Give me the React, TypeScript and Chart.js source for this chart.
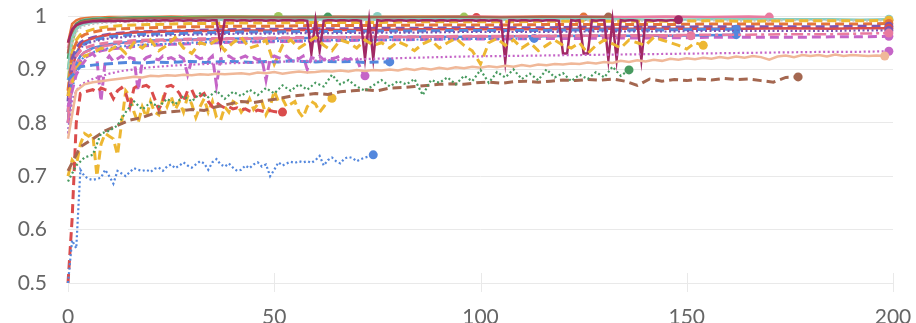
import React, { useEffect, useRef } from "react";
import { Chart, registerables } from "chart.js";

Chart.register(...registerables);

// ---------- axes ----------
const X_MIN = 0;
const X_MAX = 200;
const X_STEP = 50;
const Y_MIN = 0.5;
const Y_MAX = 1;
const Y_STEP = 0.1;

// shared epoch grid for the smooth, near-flat runs
const EPOCH_GRID = [0, 1, 2, 3, 4, 6, 8, 10, 13, 16, 20, 25, 30, 36, 42, 50, 58, 66, 75, 85, 95, 105, 115, 125, 135, 145, 155, 165, 175, 185, 192, 199];

// ---------- noisy runs (one value per `step` epochs) ----------
const blueLowDotted = [
  0.5, 0.58, 0.565, 0.712, 0.7, 0.695, 0.693, 0.695, 0.697, 0.712,
  0.7, 0.686, 0.71, 0.705, 0.7, 0.708, 0.715, 0.712, 0.71, 0.712,
  0.708, 0.714, 0.716, 0.71, 0.718, 0.722, 0.715, 0.72, 0.726, 0.72,
  0.716, 0.722, 0.728, 0.724, 0.712, 0.726, 0.732, 0.722, 0.718, 0.724,
  0.716, 0.71, 0.712, 0.72, 0.715, 0.722, 0.726, 0.718, 0.722, 0.7,
  0.712, 0.726, 0.72, 0.724, 0.727, 0.725, 0.728, 0.726, 0.728, 0.725,
  0.73, 0.738, 0.72, 0.73, 0.735, 0.728, 0.724, 0.733, 0.736, 0.734,
  0.728, 0.732, 0.735, 0.737, 0.74,
];

const greenDotted = [
  0.69, 0.72, 0.735, 0.74, 0.78, 0.785, 0.795, 0.82, 0.84, 0.825,
  0.838, 0.83, 0.845, 0.835, 0.85, 0.84, 0.855, 0.848, 0.86, 0.845,
  0.858, 0.85, 0.862, 0.852, 0.865, 0.855, 0.87, 0.86, 0.872, 0.862,
  0.875, 0.868, 0.89, 0.872, 0.88, 0.868, 0.86, 0.87, 0.88, 0.868,
  0.878, 0.872, 0.882, 0.852, 0.88, 0.875, 0.885, 0.872, 0.888, 0.878,
  0.899, 0.875, 0.895, 0.885, 0.9, 0.882, 0.892, 0.88, 0.9, 0.885,
  0.893, 0.878, 0.89, 0.882, 0.895, 0.885, 0.905, 0.888, 0.899,
];

const brownDashed = [
  0.71, 0.755, 0.77, 0.785, 0.795, 0.805, 0.81, 0.818, 0.82, 0.822,
  0.825, 0.823, 0.83, 0.835, 0.84, 0.838, 0.842, 0.845, 0.85, 0.852,
  0.855, 0.853, 0.858, 0.86, 0.862, 0.86, 0.865, 0.866, 0.868, 0.87,
  0.872, 0.873, 0.872, 0.875, 0.876, 0.874, 0.877, 0.878, 0.876, 0.878,
  0.88, 0.879, 0.881, 0.88, 0.882, 0.878, 0.87, 0.882, 0.878, 0.881,
  0.879, 0.882, 0.88, 0.883, 0.881, 0.882, 0.879, 0.876, 0.885, 0.886,
];

const redDashed = [
  0.5, 0.62, 0.8, 0.855, 0.858, 0.86, 0.862, 0.858, 0.865, 0.862,
  0.86, 0.845, 0.86, 0.866, 0.855, 0.83, 0.865, 0.87, 0.868, 0.87,
  0.865, 0.845, 0.825, 0.84, 0.868, 0.87, 0.865, 0.855, 0.84, 0.86,
  0.862, 0.845, 0.85, 0.855, 0.84, 0.83, 0.838, 0.832, 0.828, 0.83,
  0.826, 0.828, 0.824, 0.826, 0.822, 0.82, 0.824, 0.822, 0.82, 0.823,
  0.821, 0.82, 0.82,
];

const yellowLowDashed = [
  0.7, 0.73, 0.72, 0.76, 0.78, 0.775, 0.78, 0.7, 0.76, 0.78,
  0.775, 0.77, 0.74, 0.8, 0.86, 0.85, 0.82, 0.8, 0.83, 0.81,
  0.84, 0.82, 0.815, 0.845, 0.83, 0.85, 0.825, 0.84, 0.82, 0.85,
  0.835, 0.81, 0.83, 0.845, 0.82, 0.84, 0.81, 0.805, 0.83, 0.82,
  0.84, 0.835, 0.82, 0.83, 0.845, 0.825, 0.835, 0.84, 0.815, 0.83,
  0.86, 0.84, 0.845, 0.83, 0.835, 0.84, 0.82, 0.81, 0.83, 0.84,
  0.835, 0.82, 0.83, 0.84, 0.846,
];

const yellowHighDashed = [
  0.85, 0.9, 0.925, 0.93, 0.94, 0.935, 0.945, 0.93, 0.95, 0.94,
  0.955, 0.935, 0.945, 0.96, 0.94, 0.93, 0.95, 0.945, 0.955, 0.935,
  0.95, 0.96, 0.94, 0.945, 0.955, 0.91, 0.945, 0.955, 0.94, 0.95,
  0.96, 0.945, 0.935, 0.955, 0.95, 0.94, 0.955, 0.945, 0.95, 0.94,
  0.952, 0.945, 0.935, 0.948, 0.955, 0.94, 0.95, 0.958, 0.945, 0.935,
  0.91, 0.95, 0.958, 0.945, 0.955, 0.94, 0.95, 0.935, 0.945, 0.955,
  0.945, 0.94, 0.95, 0.93, 0.945, 0.955, 0.948, 0.94, 0.955, 0.95,
  0.945, 0.96, 0.955, 0.95, 0.945, 0.938, 0.95, 0.945,
];

const magentaDashed = [
  0.83, 0.86, 0.89, 0.905, 0.915, 0.925, 0.93, 0.92, 0.84, 0.915,
  0.925, 0.915, 0.92, 0.925, 0.918, 0.922, 0.92, 0.86, 0.915, 0.922,
  0.925, 0.92, 0.918, 0.925, 0.92, 0.922, 0.918, 0.925, 0.92, 0.89,
  0.918, 0.925, 0.92, 0.922, 0.918, 0.925, 0.87, 0.92, 0.922, 0.925,
  0.92, 0.918, 0.922, 0.925, 0.92, 0.922, 0.918, 0.92, 0.88, 0.92,
  0.925, 0.922, 0.92, 0.925, 0.918, 0.922, 0.92, 0.925, 0.9, 0.922,
  0.92, 0.925, 0.918, 0.922, 0.92, 0.922, 0.925, 0.92, 0.918, 0.922,
  0.92, 0.9, 0.888,
];

const blueMidDashed = [
  0.88, 0.905, 0.908, 0.91, 0.912, 0.913, 0.912, 0.914, 0.913, 0.914,
  0.915, 0.913, 0.914, 0.915, 0.914, 0.913, 0.915, 0.914, 0.916, 0.915,
  0.914, 0.915, 0.914, 0.915, 0.913, 0.914, 0.914,
];

const peachSolid = [
  0.77, 0.86, 0.872, 0.876, 0.878, 0.88, 0.882, 0.884, 0.886, 0.885,
  0.888, 0.887, 0.889, 0.888, 0.89, 0.889, 0.891, 0.89, 0.892, 0.891,
  0.892, 0.893, 0.891, 0.894, 0.893, 0.895, 0.892, 0.894, 0.896, 0.894,
  0.895, 0.897, 0.896, 0.898, 0.896, 0.899, 0.897, 0.899, 0.898, 0.9,
  0.898, 0.901, 0.899, 0.902, 0.9, 0.903, 0.901, 0.904, 0.902, 0.905,
  0.903, 0.906, 0.904, 0.907, 0.905, 0.908, 0.906, 0.909, 0.908, 0.91,
  0.909, 0.911, 0.91, 0.913, 0.911, 0.914, 0.912, 0.916, 0.914, 0.917,
  0.915, 0.918, 0.916, 0.92, 0.918, 0.921, 0.919, 0.922, 0.92, 0.923,
  0.921, 0.924, 0.922, 0.925, 0.923, 0.918, 0.924, 0.926, 0.923, 0.927,
  0.925, 0.927, 0.924, 0.928, 0.925, 0.927, 0.926, 0.925, 0.926, 0.925,
];

const darkMagentaSolid = [
  0.95, 0.975, 0.983, 0.986, 0.988, 0.989, 0.99, 0.99, 0.991, 0.99,
  0.991, 0.99, 0.991, 0.991, 0.99, 0.991, 0.992, 0.991, 0.991, 0.992,
  0.991, 0.992, 0.991, 0.992, 0.992, 0.991, 0.992, 0.992, 0.991, 0.992,
  0.992, 0.991, 0.992, 0.992, 0.991, 0.992, 0.992, 0.945, 0.992, 0.992,
  0.992, 0.991, 0.992, 0.992, 0.991, 0.992, 0.992, 0.992, 0.991, 0.992,
  0.992, 0.991, 0.992, 0.992, 0.992, 0.991, 0.992, 0.992, 0.991, 0.93,
  0.992, 0.935, 0.991, 0.992, 0.992, 0.991, 0.992, 0.992, 0.991, 0.992,
  0.992, 0.991, 0.92, 0.992, 0.92, 0.992, 0.991, 0.992, 0.992, 0.991,
  0.992, 0.992, 0.991, 0.992, 0.992, 0.991, 0.992, 0.992, 0.992, 0.991,
  0.992, 0.992, 0.991, 0.992, 0.992, 0.991, 0.992, 0.992, 0.992, 0.991,
  0.992, 0.992, 0.991, 0.992, 0.992, 0.991, 0.915, 0.992, 0.992, 0.991,
  0.992, 0.992, 0.991, 0.992, 0.992, 0.991, 0.992, 0.992, 0.992, 0.991,
  0.93, 0.93, 0.992, 0.991, 0.992, 0.93, 0.93, 0.992, 0.991, 0.992,
  0.992, 0.918, 0.992, 0.918, 0.992, 0.991, 0.992, 0.992, 0.991, 0.918,
  0.992, 0.992, 0.991, 0.992, 0.992, 0.991, 0.992, 0.992, 0.993,
];

// ---------- smooth runs on EPOCH_GRID (last value sits at the run's final epoch) ----------
const orangeTopSolid = [0.95, 0.985, 0.992, 0.995, 0.996, 0.997, 0.997, 0.998, 0.998, 0.998, 0.998, 0.999, 0.998, 0.999, 0.999, 0.998, 0.999, 0.999, 0.998, 0.999, 0.999, 0.998, 0.999, 0.998];
const redTopSolid = [0.93, 0.975, 0.985, 0.99, 0.992, 0.994, 0.995, 0.995, 0.996, 0.996, 0.997, 0.997, 0.996, 0.997, 0.997, 0.997, 0.996, 0.997, 0.997, 0.996, 0.997, 0.997];
const pinkTopSolid = [0.94, 0.975, 0.985, 0.99, 0.992, 0.994, 0.995, 0.996, 0.996, 0.997, 0.997, 0.997, 0.998, 0.998, 0.997, 0.998, 0.998, 0.998, 0.998, 0.998, 0.999, 0.998, 0.998, 0.999, 0.998, 0.999, 0.998, 0.999, 0.998];
const tealLong = [0.9, 0.96, 0.975, 0.982, 0.985, 0.988, 0.989, 0.99, 0.991, 0.991, 0.992, 0.992, 0.992, 0.993, 0.993, 0.993, 0.993, 0.994, 0.993, 0.994, 0.994, 0.993, 0.994, 0.994, 0.994, 0.993, 0.994, 0.994, 0.994, 0.994, 0.993, 0.994];
const tealShort = [0.92, 0.97, 0.985, 0.99, 0.993, 0.995, 0.996, 0.996, 0.997, 0.997, 0.998, 0.997, 0.998, 0.998, 0.998, 0.998, 0.999, 0.998, 0.999];
const limeShort = [0.9, 0.96, 0.98, 0.988, 0.99, 0.993, 0.994, 0.995, 0.996, 0.996, 0.997, 0.997, 0.998, 0.998, 0.998, 0.998, 0.999];
const greenShort = [0.92, 0.97, 0.985, 0.99, 0.992, 0.994, 0.995, 0.996, 0.996, 0.997, 0.997, 0.997, 0.998, 0.998, 0.998, 0.998, 0.997, 0.998];
const limeMid = [0.88, 0.95, 0.975, 0.985, 0.988, 0.991, 0.993, 0.994, 0.995, 0.995, 0.996, 0.996, 0.997, 0.997, 0.997, 0.997, 0.998, 0.997, 0.998, 0.998, 0.998, 0.998];
const brownTop = [0.93, 0.97, 0.982, 0.988, 0.99, 0.992, 0.993, 0.994, 0.995, 0.995, 0.996, 0.996, 0.996, 0.997, 0.997, 0.997, 0.997, 0.997, 0.998, 0.997, 0.998, 0.997, 0.998, 0.998, 0.998];
const grayDotted = [0.88, 0.95, 0.97, 0.978, 0.982, 0.985, 0.987, 0.988, 0.989, 0.99, 0.99, 0.99, 0.991, 0.991, 0.99, 0.991, 0.991, 0.991, 0.992, 0.991, 0.991, 0.992, 0.991, 0.992, 0.991, 0.992, 0.992, 0.991, 0.992, 0.992, 0.991, 0.992];
const yellowTopDashed = [0.85, 0.93, 0.955, 0.965, 0.97, 0.975, 0.978, 0.98, 0.982, 0.983, 0.984, 0.985, 0.986, 0.986, 0.987, 0.987, 0.988, 0.988, 0.988, 0.989, 0.989, 0.989, 0.99, 0.99, 0.99, 0.99, 0.991, 0.99, 0.991, 0.991, 0.991, 0.992];
const orangeDashed = [0.86, 0.93, 0.95, 0.96, 0.965, 0.97, 0.973, 0.975, 0.976, 0.977, 0.978, 0.979, 0.98, 0.98, 0.981, 0.981, 0.982, 0.982, 0.982, 0.983, 0.983, 0.983, 0.984, 0.984, 0.984, 0.984, 0.985, 0.985, 0.985, 0.985, 0.985, 0.986];
const purpleDashed = [0.84, 0.92, 0.94, 0.95, 0.955, 0.96, 0.963, 0.966, 0.968, 0.97, 0.971, 0.972, 0.973, 0.974, 0.975, 0.975, 0.976, 0.976, 0.977, 0.977, 0.978, 0.978, 0.978, 0.979, 0.979, 0.979, 0.98, 0.98, 0.98, 0.98, 0.981, 0.981];
const redLongSolid = [0.8, 0.9, 0.93, 0.945, 0.952, 0.958, 0.962, 0.965, 0.967, 0.969, 0.97, 0.971, 0.972, 0.972, 0.973, 0.973, 0.974, 0.974, 0.974, 0.975, 0.975, 0.975, 0.975, 0.976, 0.976, 0.976, 0.976, 0.976, 0.977, 0.976, 0.977, 0.977];
const blueTopDashed = [0.82, 0.9, 0.93, 0.94, 0.948, 0.955, 0.958, 0.961, 0.963, 0.965, 0.966, 0.967, 0.968, 0.969, 0.97, 0.97, 0.971, 0.971, 0.972, 0.972, 0.973, 0.973, 0.973, 0.974, 0.974, 0.974, 0.975, 0.975];
const blueSolid = [0.8, 0.88, 0.91, 0.925, 0.932, 0.94, 0.944, 0.947, 0.95, 0.952, 0.954, 0.955, 0.956, 0.957, 0.958, 0.958, 0.959, 0.96, 0.96, 0.961, 0.961, 0.962, 0.962, 0.963, 0.963, 0.963, 0.964, 0.965];
const blueTopDotted = [0.78, 0.86, 0.9, 0.915, 0.925, 0.932, 0.936, 0.94, 0.943, 0.945, 0.947, 0.948, 0.95, 0.951, 0.952, 0.953, 0.954, 0.955, 0.955, 0.956, 0.957, 0.957, 0.958];
const pinkDashDot = [0.8, 0.88, 0.91, 0.925, 0.932, 0.938, 0.942, 0.945, 0.948, 0.95, 0.952, 0.954, 0.955, 0.956, 0.957, 0.958, 0.959, 0.96, 0.96, 0.961, 0.962, 0.962, 0.963, 0.963, 0.964, 0.964, 0.965, 0.965, 0.966, 0.966, 0.967, 0.968];
const pinkDashed = [0.82, 0.9, 0.925, 0.935, 0.94, 0.945, 0.948, 0.95, 0.952, 0.954, 0.955, 0.956, 0.957, 0.958, 0.958, 0.959, 0.96, 0.96, 0.961, 0.961, 0.962, 0.962, 0.962, 0.963, 0.963, 0.963, 0.963];
const magentaTopDashed = [0.8, 0.87, 0.9, 0.915, 0.922, 0.93, 0.935, 0.938, 0.94, 0.943, 0.945, 0.947, 0.948, 0.95, 0.951, 0.952, 0.953, 0.954, 0.955, 0.956, 0.957, 0.957, 0.958, 0.958, 0.959, 0.959, 0.96, 0.96, 0.96, 0.961, 0.961, 0.962];
const purpleDotted = [0.82, 0.9, 0.93, 0.94, 0.946, 0.952, 0.955, 0.958, 0.96, 0.962, 0.963, 0.964, 0.965, 0.966, 0.967, 0.967, 0.968, 0.968, 0.969, 0.969, 0.97, 0.97, 0.97, 0.971, 0.971, 0.971, 0.972, 0.972, 0.972, 0.972, 0.973, 0.973];
const magentaDotted = [0.78, 0.84, 0.86, 0.87, 0.875, 0.882, 0.887, 0.892, 0.897, 0.9, 0.904, 0.907, 0.909, 0.911, 0.912, 0.914, 0.916, 0.918, 0.92, 0.922, 0.924, 0.925, 0.926, 0.927, 0.928, 0.929, 0.93, 0.931, 0.932, 0.933, 0.933, 0.934];

// ---------- colours & styles ----------
const C = {
  pink: "#E87B9F",
  darkMagenta: "#A12864",
  red: "#DA4C4C",
  orange: "#E57439",
  yellow: "#EDB732",
  lime: "#A0C75C",
  green: "#479A5F",
  teal: "#87CEBF",
  blue: "#5387DD",
  purple: "#7D54B2",
  magenta: "#C565C7",
  brown: "#A46750",
  peach: "#F0B899",
  gray: "#C2C2C2",
};

type Style = "solid" | "dashed" | "dotted" | "dashdot";
const DASH: Record<Style, number[]> = {
  solid: [],
  dashed: [9, 5],
  dotted: [2, 2.5],
  dashdot: [12, 4, 3, 4],
};
const WIDTH: Record<Style, number> = { solid: 2.5, dashed: 3, dotted: 2.2, dashdot: 2.5 };

type Run = { color: string; style: Style; values: number[]; step?: number; end?: number };

// first entries are drawn on top
const RUNS: Run[] = [
  { color: C.blue, style: "dotted", values: blueLowDotted, step: 1 },
  { color: C.green, style: "dotted", values: greenDotted, step: 2 },
  { color: C.brown, style: "dashed", values: brownDashed, step: 3 },
  { color: C.red, style: "dashed", values: redDashed, step: 1 },
  { color: C.yellow, style: "dashed", values: yellowLowDashed, step: 1 },
  { color: C.peach, style: "solid", values: peachSolid, step: 2 },
  { color: C.magenta, style: "dotted", values: magentaDotted, end: 199 },
  { color: C.blue, style: "dashed", values: blueMidDashed, step: 3 },
  { color: C.magenta, style: "dashed", values: magentaDashed, step: 1 },
  { color: C.yellow, style: "dashed", values: yellowHighDashed, step: 2 },
  { color: C.darkMagenta, style: "solid", values: darkMagentaSolid, step: 1 },
  { color: C.pink, style: "dashdot", values: pinkDashDot, end: 199 },
  { color: C.pink, style: "dashed", values: pinkDashed, end: 151 },
  { color: C.blue, style: "dotted", values: blueTopDotted, end: 113 },
  { color: C.blue, style: "solid", values: blueSolid, end: 162 },
  { color: C.magenta, style: "dashed", values: magentaTopDashed, end: 199 },
  { color: C.purple, style: "dotted", values: purpleDotted, end: 199 },
  { color: C.blue, style: "dashed", values: blueTopDashed, end: 162 },
  { color: C.red, style: "solid", values: redLongSolid, end: 199 },
  { color: C.purple, style: "dashed", values: purpleDashed, end: 199 },
  { color: C.orange, style: "dashed", values: orangeDashed, end: 199 },
  { color: C.yellow, style: "dashed", values: yellowTopDashed, end: 199 },
  { color: C.gray, style: "dotted", values: grayDotted, end: 199 },
  { color: C.teal, style: "solid", values: tealLong, end: 199 },
  { color: C.brown, style: "solid", values: brownTop, end: 131 },
  { color: C.lime, style: "solid", values: limeMid, end: 96 },
  { color: C.green, style: "solid", values: greenShort, end: 63 },
  { color: C.lime, style: "solid", values: limeShort, end: 51 },
  { color: C.teal, style: "solid", values: tealShort, end: 75 },
  { color: C.pink, style: "solid", values: pinkTopSolid, end: 170 },
  { color: C.red, style: "solid", values: redTopSolid, end: 99 },
  { color: C.orange, style: "solid", values: orangeTopSolid, end: 125 },
];

function toPoints(run: Run) {
  if (run.step !== undefined) {
    return run.values.map((y, i) => ({ x: i * (run.step as number), y }));
  }
  const end = run.end as number;
  const xs = [...EPOCH_GRID.filter((x) => x < end), end];
  return run.values.map((y, i) => ({ x: xs[Math.min(i, xs.length - 1)], y }));
}

const FONT = { family: "Lato, 'Noto Sans', sans-serif", size: 21 };
const TICK_COLOR = "#666666";
const GRID_COLOR = "#e9e9e9";

const xTickMarks = {
  id: "xTickMarks",
  beforeDatasetsDraw(chart: any) {
    const { ctx, chartArea, scales } = chart;
    ctx.save();
    ctx.strokeStyle = GRID_COLOR;
    ctx.lineWidth = 1;
    for (let v = X_MIN; v <= X_MAX; v += X_STEP) {
      const px = Math.round(scales.x.getPixelForValue(v)) + 0.5;
      ctx.beginPath();
      ctx.moveTo(px, chartArea.bottom - 10);
      ctx.lineTo(px, chartArea.bottom + 9);
      ctx.stroke();
    }
    ctx.restore();
  },
};

export default function App() {
  const ref = useRef<HTMLCanvasElement | null>(null);
  useEffect(() => {
    if (!ref.current) return;
    const datasets = RUNS.map((run) => {
      const data = toPoints(run);
      const last = data.length - 1;
      return {
        data,
        borderColor: run.color,
        backgroundColor: run.color,
        borderWidth: WIDTH[run.style],
        borderDash: DASH[run.style],
        pointRadius: (c: any) => (c.dataIndex === last ? 4.5 : 0),
        pointHoverRadius: 0,
        pointBorderWidth: 0,
        pointBackgroundColor: run.color,
        tension: 0,
        fill: false,
        clip: false as any,
      };
    });
    const chart = new Chart(ref.current, {
      type: "line",
      data: { datasets },
      options: {
        animation: false,
        responsive: true,
        maintainAspectRatio: false,
        layout: { padding: { top: 16, right: 23, left: 0, bottom: 0 } },
        plugins: { legend: { display: false }, tooltip: { enabled: false } },
        events: [],
        scales: {
          x: {
            type: "linear",
            min: X_MIN,
            max: X_MAX,
            border: { display: false },
            grid: { display: false },
            ticks: {
              stepSize: X_STEP,
              color: TICK_COLOR,
              font: FONT,
              padding: 14,
              maxRotation: 0,
              callback: (v: any) => String(v),
            },
            afterFit: (s: any) => {
              s.height = 40;
              s.paddingLeft = 0;
              s.paddingRight = 0;
            },
          },
          y: {
            type: "linear",
            min: Y_MIN,
            max: Y_MAX,
            border: { display: false },
            grid: { color: GRID_COLOR, drawTicks: false, lineWidth: 1 },
            ticks: {
              stepSize: Y_STEP,
              color: TICK_COLOR,
              font: FONT,
              padding: 21,
              callback: (v: any) => String(Math.round(Number(v) * 10) / 10),
            },
            afterFit: (s: any) => {
              s.width = 68;
              s.paddingTop = 0;
              s.paddingBottom = 0;
            },
          },
        },
      },
      plugins: [xTickMarks],
    });
    return () => chart.destroy();
  }, []);
  return (
    <div style={{ position: "fixed", left: 0, top: 0, width: 916, height: 323, background: "#fff" }}>
      <canvas ref={ref} />
    </div>
  );
}
